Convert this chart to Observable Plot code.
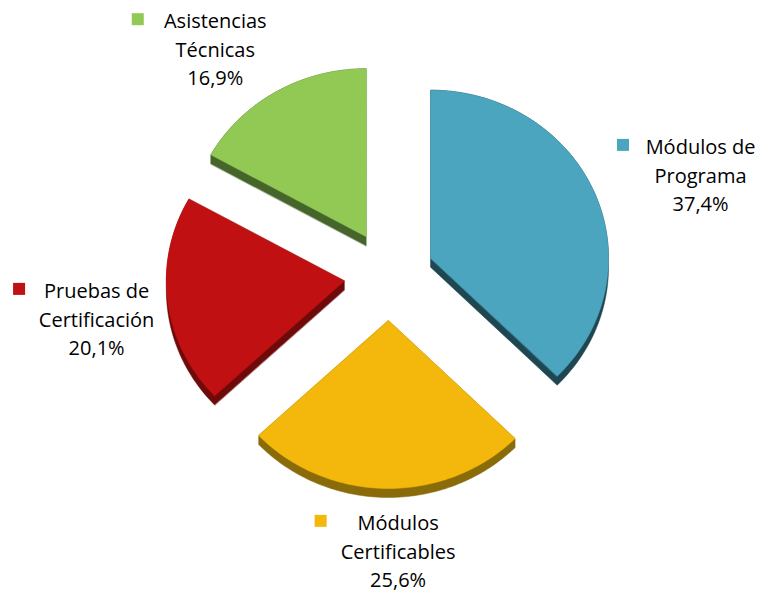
<!DOCTYPE html>
<html><head><meta charset="utf-8">
<script src="https://cdn.jsdelivr.net/npm/d3@7"></script>
<script src="https://cdn.jsdelivr.net/npm/@observablehq/plot@0.6"></script>
<style>body{margin:0;background:#fff} #chart{width:759px;height:594px}</style>
</head><body><div id="chart"></div>
<script>
// ---- data ----
const categories = ["Módulos de Programa", "Módulos Certificables", "Pruebas de Certificación", "Asistencias Técnicas"];
const labelLines = ["Módulos de\nPrograma", "Módulos\nCertificables", "Pruebas de\nCertificación", "Asistencias\nTécnicas"];
const values = [37.4, 25.6, 20.1, 16.9];

// ---- layout / style ----
const W = 759, H = 594;
const faceColors = ["#4BA5BF", "#F3B80B", "#C11011", "#92C955"];
const sideColors = ["#1F4752", "#8A6B0A", "#6E0A0A", "#46652A"];
const cx = 388.5, cy = 275, rx = 178, ry = 168, explode = 45, depth = 9;
const labelLayout = [{da: 5.2, dist: 326.6}, {da: -2.6, dist: 278}, {da: -1.9, dist: 296}, {da: -7.4, dist: 283.3}];
const labelShiftY = -4;
const toRad = Math.PI / 180;

const arcs = d3.pie().sort(null).value(d => d)(values);

const faces = [], sides = [], labels = [], squares = [];
arcs.forEach((a, i) => {
  const mid = (a.startAngle + a.endAngle) / 2;
  const ax = cx + explode * Math.sin(mid), ay = cy - explode * Math.cos(mid);
  const pts = [[ax, ay]];
  const n = 80;
  for (let k = 0; k <= n; k++) {
    const t = a.startAngle + (a.endAngle - a.startAngle) * k / n;
    pts.push([ax + rx * Math.sin(t), ay - ry * Math.cos(t)]);
  }
  pts.forEach(([x, y]) => faces.push({slice: i, name: categories[i], x, y}));
  const hull = d3.polygonHull(pts.concat(pts.map(([x, y]) => [x, y + depth])));
  sides.push(hull.map(([x, y]) => ({slice: i, x, y})));
  const L = labelLayout[i];
  const la = mid + L.da * toRad;
  const lx = cx + L.dist * Math.sin(la), ly = cy - L.dist * Math.cos(la);
  const pct = d3.format(".1f")(values[i]).replace(".", ",") + "%";
  labels.push({name: categories[i], x: lx, y: ly + labelShiftY, text: labelLines[i] + "\n" + pct});
  squares.push({name: categories[i], x1: lx - 83, x2: lx - 71, y1: ly - 38, y2: ly - 26});
});

const chart = Plot.plot({
  width: W, height: H,
  margin: 0,
  x: {domain: [0, W], range: [0, W], axis: null},
  y: {domain: [0, H], range: [0, H], axis: null},
  color: {domain: categories, range: faceColors},
  marks: [
    ...sides.map((s, i) => Plot.line(s, {x: "x", y: "y", fill: sideColors[i], stroke: sideColors[i], strokeWidth: 0.5, curve: "linear-closed"})),
    Plot.line(faces, {x: "x", y: "y", z: "slice", fill: "name", stroke: "name", strokeWidth: 0.5, curve: "linear-closed"}),
    Plot.rect(squares, {x1: "x1", x2: "x2", y1: "y1", y2: "y2", fill: "name"}),
    Plot.text(labels, {x: "x", y: "y", text: "text", fontSize: 20, lineHeight: 1.43, fontFamily: "Open Sans", fill: "#000", textAnchor: "middle", lineAnchor: "middle"})
  ]
});
document.getElementById("chart").appendChild(chart);
</script>
</body></html>
